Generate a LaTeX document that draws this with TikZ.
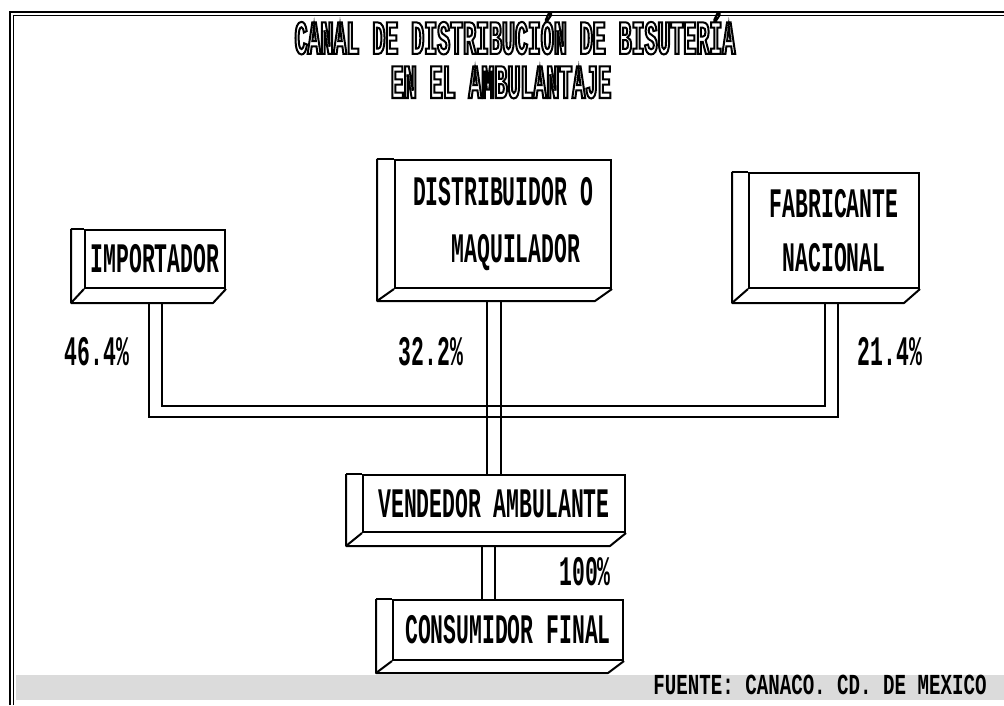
\documentclass[tikz,border=0pt]{standalone}
\usepackage{fontspec}
\usetikzlibrary{calc}
\newfontfamily\boxfont[FakeStretch=0.51]{Liberation Mono}
\newfontfamily\titlefont[FakeStretch=0.45]{Liberation Mono}
\newfontfamily\srcfont[FakeStretch=0.66]{Liberation Mono}
\newcommand\outlinetext[1]{\special{pdf:literal direct 1 Tr 1 w}#1\special{pdf:literal direct 0 Tr}}
\tikzset{
  face/.style={draw, line width=1pt, inner sep=0pt, align=center,
    font=\boxfont\bfseries\fontsize{21}{25}\selectfont},
  pct/.style={inner sep=0pt, font=\boxfont\bfseries\fontsize{21}{25}\selectfont},
  ttl/.style={inner sep=0pt, text height=13.5pt, text depth=0.5pt,
    font=\titlefont\bfseries\fontsize{24}{28}\selectfont},
  src/.style={inner sep=0pt, font=\srcfont\bfseries\fontsize{14.5}{17}\selectfont},
  slabline/.style={line width=1pt, line join=round},
  conn/.style={line width=0.8pt},
  frame/.style={line width=0.8pt},
}
\newcommand\slabdraw[3]{%
  \draw[slabline] ($(#1.north west)+(-#2,0)$) -- (#1.north west);
  \draw[slabline] ($(#1.north west)+(-#2,0)$) -- ($(#1.south west)+(-#2,#3)$)
     -- ($(#1.south east)+(-#2,#3)$) -- (#1.south east);
  \draw[slabline] ($(#1.south west)+(-#2,#3)$) -- (#1.south west);
}
\begin{document}
\begin{tikzpicture}[x=0.5pt,y=-0.5pt]
\useasboundingbox (0,0) rectangle (1004,705);
% frame
\draw[frame] (10,705) -- (10,12) -- (1004,12);
\draw[frame] (13.5,705) -- (13.5,15.5) -- (1004,15.5);
% title
\node[ttl] (t1) at (515,41) {\outlinetext{CANAL DE DISTRIBUCIÓN DE BISUTERÍA}};
\node[ttl] (t2) at (501,85) {\outlinetext{EN EL AMBULANTAJE}};
% boxes
\node[face, minimum width=70pt, minimum height=29pt] (imp) at (155,259) {IMPORTADOR};
\node[face, minimum width=108pt, minimum height=64pt, align=left] (dis) at (503,224)
  {DISTRIBUIDOR O\\[3.5pt]\hphantom{MAQ}MAQUILADOR};
\node[face, minimum width=85pt, minimum height=57.5pt] (fab) at (834,230.5)
  {FABRICANTE\\[2pt]NACIONAL};
\node[face, minimum width=131pt, minimum height=28.5pt] (ven) at (494,503.5) {VENDEDOR AMBULANTE};
\node[face, minimum width=115pt, minimum height=30pt] (con) at (508,630) {CONSUMIDOR FINAL};
\slabdraw{imp}{13}{14}
\slabdraw{dis}{17}{12}
\slabdraw{fab}{16}{14}
\slabdraw{ven}{16}{13}
\slabdraw{con}{16}{12}
% connector end points on the slabs
\coordinate (iL) at ($(imp.south)+(-6,14)$);
\coordinate (iR) at ($(imp.south)+(7,14)$);
\coordinate (fL) at ($(fab.south)+(-9,14)$);
\coordinate (fR) at ($(fab.south)+(4,14)$);
\coordinate (dL) at ($(dis.south)+(-16,12)$);
\coordinate (dR) at ($(dis.south)+(-2,12)$);
\coordinate (vL) at ($(ven.south)+(-12,13)$);
\coordinate (vR) at ($(ven.south)+(1,13)$);
% bus
\coordinate (bt) at (0,406);
\coordinate (bb) at (0,417);
\draw[conn] (iL) -- (iL |- bb) -- (fR |- bb) -- (fR);
\draw[conn] (iR) -- (iR |- bt) -- (fL |- bt) -- (fL);
\draw[conn] (dL) -- (dL |- ven.north);
\draw[conn] (dR) -- (dR |- ven.north);
\draw[conn] (vL) -- (vL |- con.north);
\draw[conn] (vR) -- (vR |- con.north);
% percentages
\node[pct] (p1) at (97,352) {46.4\%};
\node[pct] (p2) at (431,352) {32.2\%};
\node[pct] (p3) at (890,352) {21.4\%};
\node[pct] (p4) at (585,572) {100\%};
% source band
\fill[black!14] (16,675) rectangle (1004,700);
\node[src] (fuente) at (820,685) {FUENTE: CANACO. CD. DE MEXICO};
\end{tikzpicture}
\end{document}
